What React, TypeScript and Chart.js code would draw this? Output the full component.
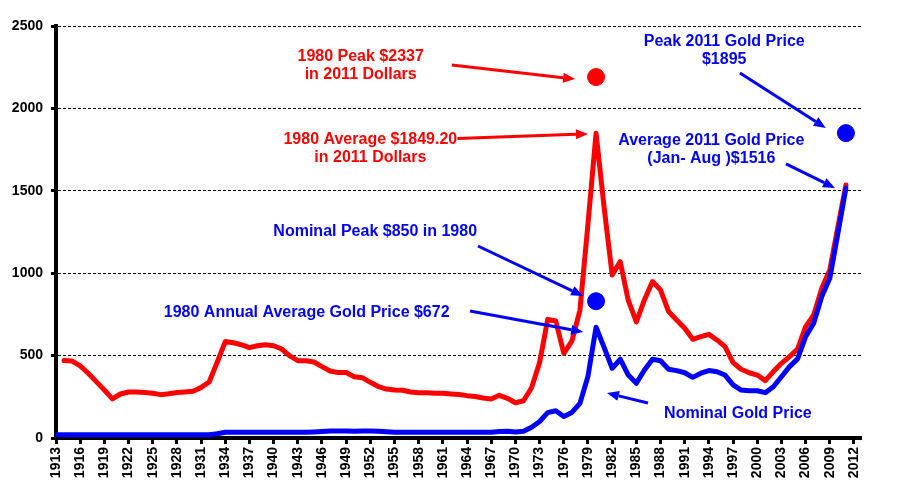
import React, { useEffect, useRef } from "react";
import { Chart, registerables } from "chart.js";

Chart.register(...registerables);

// ---- data ----
const NOMINAL_START_YEAR = 1913;
const REAL_START_YEAR = 1914;

// Nominal gold price (blue), 1913..2011
const nominalPrice = [
  20, 20, 20, 20, 20, 20, 20, 20, 20, 20, // 1913-1922
  20, 20, 20, 20, 20, 20, 20, 20, 20, 20, // 1923-1932
  26, 35, 35, 35, 35, 35, 35, 35, 35, 35, // 1933-1942
  35, 35, 37, 40, 42, 43, 42, 41, 42, 42, // 1943-1952
  41, 38, 35, 35, 35, 35, 35, 35, 35, 35, // 1953-1962
  35, 35, 35, 35, 35, 39, 41, 36, 41, 65, // 1963-1972
  100, 154, 165, 130, 155, 210, 375, 672, 550, 423, // 1973-1982
  478, 382, 332, 413, 478, 469, 417, 409, 396, 368, // 1983-1992
  393, 409, 402, 382, 322, 291, 287, 287, 275, 311, // 1993-2002
  372, 433, 480, 615, 696, 858, 969, 1240, 1516, // 2003-2011
];

// Gold price in 2011 dollars (red), 1914..2011
const realPrice = [
  470, 467, 437, 393, 342, 291, 237, 267, 279, // 1914-1922
  279, 276, 271, 263, 268, 276, 279, 283, 307, 340, // 1923-1932
  460, 585, 578, 566, 548, 560, 566, 560, 540, 498, // 1933-1942
  469, 469, 461, 433, 407, 397, 397, 372, 366, 338, // 1943-1952
  312, 297, 291, 290, 279, 275, 275, 272, 271, 267, // 1953-1962
  264, 257, 252, 243, 237, 259, 241, 214, 226, 305, // 1963-1972
  458, 720, 710, 514, 588, 775, 1300, 1849, 1400, 989, // 1973-1982
  1070, 835, 705, 838, 949, 898, 767, 716, 666, 599, // 1983-1992
  615, 629, 595, 554, 457, 417, 396, 382, 348, 403, // 1993-2002
  453, 494, 540, 676, 747, 908, 1020, 1280, 1535, // 2003-2011
];

// Highlight dots
const redDots = [{ x: 1980, y: 2190 }];
const blueDots = [
  { x: 1980, y: 830 },
  { x: 2011, y: 1850 },
];

// Tick labels
const xTickYears = [
  1913, 1916, 1919, 1922, 1925, 1928, 1931, 1934, 1937, 1940, 1943, 1946, 1949,
  1952, 1955, 1958, 1961, 1964, 1967, 1970, 1973, 1976, 1979, 1982, 1985, 1988,
  1991, 1994, 1997, 2000, 2003, 2006, 2009, 2012,
];
const yTicks = [0, 500, 1000, 1500, 2000, 2500];

const RED = "#FF0000";
const BLUE = "#0000FF";
const FONT = '"Liberation Sans", Arial, sans-serif';

// Annotations (in data coordinates: year, value)
const noteTexts = [
  { lines: ["1980 Peak $2337", "in 2011 Dollars"], x: 1950.8, y: 2312, color: RED },
  { lines: ["1980 Average $1849.20", "in 2011 Dollars"], x: 1952.0, y: 1808, color: RED },
  { lines: ["Peak 2011 Gold Price", "$1895"], x: 1995.9, y: 2403, color: BLUE },
  { lines: ["Average 2011 Gold Price", "(Jan- Aug )$1516"], x: 1994.3, y: 1802, color: BLUE },
  { lines: ["Nominal Peak $850 in 1980"], x: 1952.6, y: 1250, color: BLUE },
  { lines: ["1980 Annual Average Gold Price $672"], x: 1944.1, y: 758, color: BLUE },
  { lines: ["Nominal Gold Price"], x: 1997.6, y: 146, color: BLUE },
];

const noteArrows = [
  { from: [1962.1, 2263], to: [1977.4, 2178], color: RED },
  { from: [1962.8, 1817], to: [1979.0, 1845], color: RED },
  { from: [1997.85, 2215], to: [2008.5, 1881], color: BLUE },
  { from: [2003.56, 1663], to: [2009.64, 1517], color: BLUE },
  { from: [1965.35, 1165], to: [1978.4, 862], color: BLUE },
  { from: [1964.36, 771], to: [1978.4, 643], color: BLUE },
  { from: [1986.44, 212], to: [1981.35, 273], color: BLUE },
];

const toPoints = (start: number, values: number[]) =>
  values.map((v, i) => ({ x: start + i, y: v }));

const annotationPlugin = {
  id: "goldNotes",
  afterDatasetsDraw(chart: any) {
    const { ctx, scales } = chart;
    const xs = scales.x;
    const ys = scales.y;
    ctx.save();
    // arrows
    for (const a of noteArrows) {
      const x1 = xs.getPixelForValue(a.from[0]);
      const y1 = ys.getPixelForValue(a.from[1]);
      const x2 = xs.getPixelForValue(a.to[0]);
      const y2 = ys.getPixelForValue(a.to[1]);
      const ang = Math.atan2(y2 - y1, x2 - x1);
      const headLen = 12;
      const headHalf = 5;
      const bx = x2 - headLen * Math.cos(ang);
      const by = y2 - headLen * Math.sin(ang);
      ctx.strokeStyle = a.color;
      ctx.fillStyle = a.color;
      ctx.lineWidth = 3;
      ctx.lineCap = "butt";
      ctx.beginPath();
      ctx.moveTo(x1, y1);
      ctx.lineTo(bx, by);
      ctx.stroke();
      ctx.beginPath();
      ctx.moveTo(x2, y2);
      ctx.lineTo(bx + headHalf * Math.sin(ang), by - headHalf * Math.cos(ang));
      ctx.lineTo(bx - headHalf * Math.sin(ang), by + headHalf * Math.cos(ang));
      ctx.closePath();
      ctx.fill();
    }
    // texts
    ctx.textAlign = "center";
    ctx.textBaseline = "middle";
    ctx.font = `bold 16px ${FONT}`;
    for (const t of noteTexts) {
      const cx = xs.getPixelForValue(t.x);
      const cy = ys.getPixelForValue(t.y);
      ctx.fillStyle = t.color;
      t.lines.forEach((line, i) => ctx.fillText(line, cx, cy + i * 18));
    }
    ctx.restore();
  },
};

export default function App() {
  const canvasRef = useRef<HTMLCanvasElement | null>(null);

  useEffect(() => {
    document.body.style.margin = "0";
    const canvas = canvasRef.current;
    if (!canvas) return;
    const chart = new Chart(canvas, {
      type: "line",
      data: {
        datasets: [
          {
            label: "Blue dots",
            data: blueDots,
            showLine: false,
            pointRadius: 8.5,
            pointBackgroundColor: BLUE,
            pointBorderColor: BLUE,
            borderColor: BLUE,
            order: 0,
          },
          {
            label: "Red dot",
            data: redDots,
            showLine: false,
            pointRadius: 8.5,
            pointBackgroundColor: RED,
            pointBorderColor: RED,
            borderColor: RED,
            order: 0,
          },
          {
            label: "Nominal Gold Price",
            data: toPoints(NOMINAL_START_YEAR, nominalPrice),
            borderColor: BLUE,
            backgroundColor: BLUE,
            borderWidth: 5,
            pointRadius: 0,
            tension: 0,
            borderJoinStyle: "round",
            borderCapStyle: "round",
            order: 1,
          },
          {
            label: "Gold Price in 2011 Dollars",
            data: toPoints(REAL_START_YEAR, realPrice),
            borderColor: RED,
            backgroundColor: RED,
            borderWidth: 5,
            pointRadius: 0,
            tension: 0,
            borderJoinStyle: "round",
            borderCapStyle: "round",
            order: 2,
          },
        ],
      },
      options: {
        animation: false,
        responsive: false,
        maintainAspectRatio: false,
        layout: { padding: { top: 26, right: 40, bottom: 0, left: 0 } },
        plugins: {
          legend: { display: false },
          tooltip: { enabled: false },
        },
        scales: {
          x: {
            type: "linear",
            min: 1913,
            max: 2012.87,
            afterBuildTicks: (scale: any) => {
              scale.ticks = xTickYears.map((v) => ({ value: v }));
            },
            afterFit: (scale: any) => {
              scale.height = 56;
            },
            ticks: {
              autoSkip: false,
              maxRotation: 90,
              minRotation: 90,
              padding: 3,
              color: "#000",
              font: { family: FONT, size: 14, weight: "bold" },
              callback: (v: any) => String(v),
            },
            grid: {
              drawOnChartArea: false,
              drawTicks: true,
              tickLength: 6,
              tickWidth: 3,
              tickColor: "#000",
            },
            border: { display: true, color: "#000", width: 4 },
          },
          y: {
            type: "linear",
            min: 0,
            max: 2500,
            afterBuildTicks: (scale: any) => {
              scale.ticks = yTicks.map((v) => ({ value: v }));
            },
            afterFit: (scale: any) => {
              scale.width = 56;
            },
            ticks: {
              padding: 8,
              color: "#000",
              font: { family: FONT, size: 14, weight: "bold" },
              callback: (v: any) => String(v),
            },
            grid: {
              color: "#000",
              lineWidth: 1,
              drawTicks: true,
              tickLength: 5,
              tickWidth: 3,
              tickColor: "#000",
            },
            border: { display: true, color: "#000", width: 4, dash: [3, 2] },
          },
        },
      },
      plugins: [annotationPlugin],
    });
    return () => chart.destroy();
  }, []);

  return (
    <div style={{ width: 901, height: 494, position: "relative" }}>
      <canvas ref={canvasRef} width={901} height={494} />
    </div>
  );
}
